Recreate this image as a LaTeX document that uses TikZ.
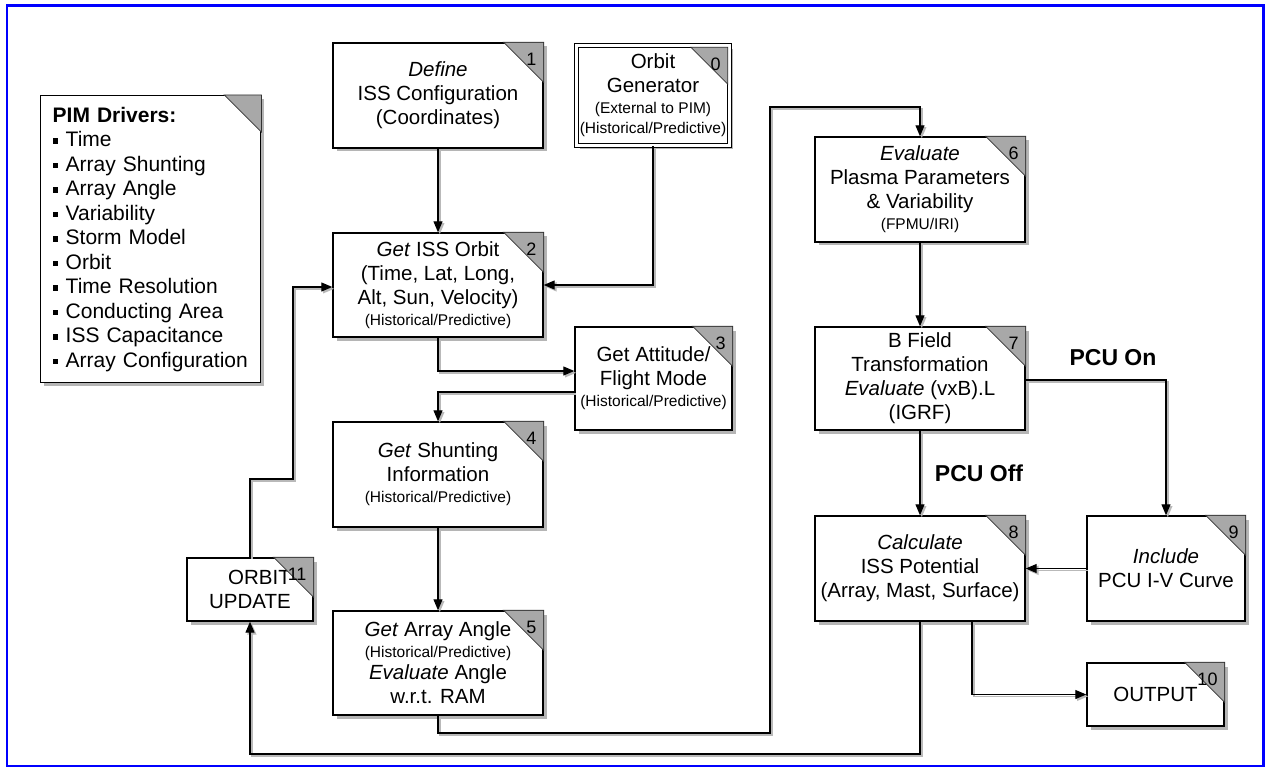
\documentclass[tikz,border=0pt]{standalone}
\usepackage{fontspec}
\setmainfont{Liberation Sans}
\usetikzlibrary{arrows.meta,shadows}
\definecolor{cornergray}{RGB}{168,168,168}
\definecolor{shadowgray}{RGB}{150,150,150}
\newcommand\bigf{\fontsize{20.5}{24}\selectfont}
\newcommand\smf{\fontsize{15.5}{18}\selectfont}
\newcommand\numf{\fontsize{18}{20}\selectfont}
\newcommand\pimf{\fontsize{21}{24.5}\selectfont}
\newcommand\bul{\rule[0.14em]{0.26em}{0.26em}\hspace{0.36em}}
% #1 size, #2 point (north east corner), #3 number, #4 name
\newcommand\corner[4][40]{%
  \filldraw[fill=cornergray, draw=black!80, line width=0.8pt]
    ([xshift=-#1pt]#2) -- (#2) -- ([yshift=-#1pt]#2) -- cycle;
  \node[numlbl, anchor=east] (#4) at ([xshift=-7pt,yshift=-17pt]#2) {#3};}
% connector with a grey offset shadow line
\newcommand\conn[1]{%
  \begin{scope}[transform canvas={shift={(1.8pt,-1.8pt)}}]
    \draw[connsh] #1;
  \end{scope}
  \draw[conn] #1;}
\begin{document}
\begin{tikzpicture}[x=1pt,y=-1pt,
  box/.style={draw, line width=1.4pt, fill=white, inner sep=0pt, align=center,
    font=\bigf, drop shadow={shadow xshift=3.5pt, shadow yshift=-3.5pt,
    fill=shadowgray, opacity=0.7}},
  conn/.style={line width=1.1pt, -{Triangle[length=11pt,width=9pt]}},
  connsh/.style={draw=gray!55, line width=1.5pt, -{Triangle[length=11pt,width=9pt]}},
  lbl/.style={font=\bfseries\fontsize{23}{26}\selectfont, inner sep=0pt},
  numlbl/.style={font=\numf, inner sep=0pt},
]
\useasboundingbox (0,0) rectangle (1265,767);
\fill[white] (0,0) rectangle (1265,767);
\draw[blue, line width=2.6pt] (7,5.5) rectangle (1263.5,766);

% PIM drivers
\node[box, anchor=north west, minimum width=220pt, minimum height=287pt,
  align=left, text width=196pt, font=\pimf, inner xsep=12pt] (pim) at (40,95)
  {\textbf{PIM Drivers:}\\
   \bul Time\\
   \bul Array Shunting\\
   \bul Array Angle\\
   \bul Variability\\
   \bul Storm Model\\
   \bul Orbit\\
   \bul Time Resolution\\
   \bul Conducting Area\\
   \bul ISS Capacitance\\
   \mbox{\bul Array Configuration}};

% boxes
\node[box, minimum width=210pt, minimum height=105pt] (b1) at (438,95.5)
  {\textit{Define}\\ISS Configuration\\(Coordinates)};
\node[box, minimum width=153pt, minimum height=100pt, double=white,
  double distance=2.5pt] (b0) at (653,95.5)
  {Orbit\\Generator\\[-3pt]{\smf (External to PIM)}\\[-4pt]{\smf (Historical/Predictive)}};
\node[box, minimum width=210pt, minimum height=104pt] (b2) at (438,285)
  {\textit{Get} ISS Orbit\\(Time, Lat, Long,\\Alt, Sun, Velocity)\\[-3pt]{\smf (Historical/Predictive)}};
\node[box, minimum width=157pt, minimum height=103pt] (b3) at (653.5,378.5)
  {Get Attitude/\\Flight Mode\\[-3pt]{\smf (Historical/Predictive)}};
\node[box, minimum width=210pt, minimum height=105pt] (b4) at (438,474.5)
  {\textit{Get} Shunting\\Information\\[-3pt]{\smf (Historical/Predictive)}};
\node[box, minimum width=210pt, minimum height=104pt] (b5) at (438,663)
  {\textit{Get} Array Angle\\[-3pt]{\smf (Historical/Predictive)}\\[-2pt]\textit{Evaluate} Angle\\w.r.t. RAM};
\node[box, minimum width=126pt, minimum height=63pt, align=right] (b11) at (250,589.5)
  {ORBIT\\UPDATE};
\node[box, minimum width=210pt, minimum height=105pt] (b6) at (920,189.5)
  {\textit{Evaluate}\\Plasma Parameters\\\& Variability\\[-3pt]{\smf (FPMU/IRI)}};
\node[box, minimum width=210pt, minimum height=103pt] (b7) at (920,378.5)
  {B Field\\Transformation\\\textit{Evaluate} (vxB).L\\(IGRF)};
\node[box, minimum width=210pt, minimum height=105pt] (b8) at (920,568.5)
  {\textit{Calculate}\\ISS Potential\\(Array, Mast, Surface)};
\node[box, minimum width=158pt, minimum height=105pt] (b9) at (1166,568.5)
  {\textit{Include}\\PCU I-V Curve};
\node[box, minimum width=137pt, minimum height=63pt] (b10) at (1155.5,694.5)
  {OUTPUT};

% corners
\corner[37]{pim.north east}{}{npim}
\corner{b1.north east}{1}{n1}
\coordinate (b0c) at ([xshift=-2.4pt,yshift=-2.4pt]b0.north east);
\corner[37]{b0c}{0}{n0}
\corner{b2.north east}{2}{n2}
\corner{b3.north east}{3}{n3}
\corner{b4.north east}{4}{n4}
\corner{b5.north east}{5}{n5}
\corner{b6.north east}{6}{n6}
\corner{b7.north east}{7}{n7}
\corner{b8.north east}{8}{n8}
\corner{b9.north east}{9}{n9}
\corner{b10.north east}{10}{n10}
\corner{b11.north east}{11}{n11}

% connectors
\coordinate (w1) at (770,733);
\coordinate (w2) at (920,107);
\coordinate (w3) at (920,754);
\coordinate (w4) at (293,479);
\conn{(b1.south) -- (b2.north)}
\conn{(b0.south) |- (b2.east)}
\conn{(b2.south) |- ([yshift=7.5pt]b3.west)}
\conn{([yshift=-13.5pt]b3.west) -| (b4.north)}
\conn{(b4.south) -- (b5.north)}
\conn{(b5.south) |- (w1) |- (w2) -- (b6.north)}
\conn{(b6.south) -- (b7.north)}
\conn{(b7.south) -- (b8.north)}
\conn{([yshift=-1.5pt]b7.east) -| (b9.north)}
\conn{(b9.west) -- (b8.east)}
\conn{([xshift=52pt]b8.south) |- (b10.west)}
\conn{(b8.south) -- (w3) -| (b11.south)}
\conn{(b11.north) |- (w4) |- ([yshift=-2pt]b2.west)}

% labels
\node[lbl] (pcuon) at (1113,358) {PCU On};
\node[lbl] (pcuoff) at (979,473) {PCU Off};
\end{tikzpicture}
\end{document}
